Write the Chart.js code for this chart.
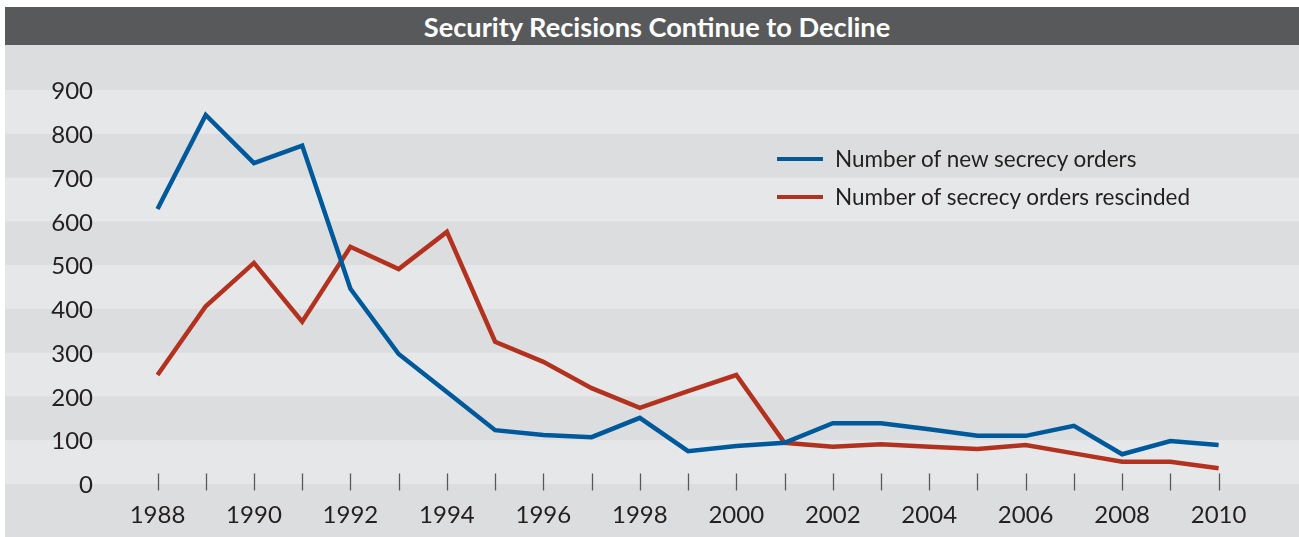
<!DOCTYPE html>
<html>
<head>
<meta charset="utf-8">
<script src="https://cdn.jsdelivr.net/npm/chart.js@4.4.0/dist/chart.umd.min.js"></script>
<style>
  html, body { margin:0; padding:0; background:#ffffff; width:1299px; height:537px; overflow:hidden; }
  #title { position:absolute; left:5px; top:7px; width:1294px; height:36px; padding-top:2px; background:#58595b;
           color:#ffffff; font:bold 27.2px Lato, sans-serif; line-height:36px; text-align:center; box-sizing:content-box; }
  #title span { position:relative; left:5px; }
  #wrap { position:absolute; left:5px; top:45px; width:1294px; height:492px; }
  #legend { position:absolute; left:777px; top:140px; }
  .row { position:absolute; left:0; display:flex; align-items:center; height:38px; white-space:nowrap; }
  .swatch { width:46px; height:4px; margin-right:12px; }
  .lbl { font:22.5px Lato, sans-serif; color:#231f20; line-height:38px; }
</style>
</head>
<body>
<div id="title"><span>Security Recisions Continue to Decline</span></div>
<div id="wrap"><canvas id="c"></canvas></div>
<div id="legend"></div>
<script>
const years = ['1988','1989','1990','1991','1992','1993','1994','1995','1996','1997','1998','1999',
               '2000','2001','2002','2003','2004','2005','2006','2007','2008','2009','2010'];
const newOrders = [628,843,733,773,446,297,210,123,112,107,151,75,87,94,139,139,125,110,110,133,68,98,89];
const rescinded = [249,406,505,371,542,491,576,325,279,219,174,212,249,94,85,91,85,80,89,70,51,51,36];
const yTicks = [0,100,200,300,400,500,600,700,800,900];
const seriesNames = ['Number of new secrecy orders','Number of secrecy orders rescinded'];
const seriesColors = ['#00599a','#b3321f'];

const bands = {
  id:'bands',
  beforeDraw(chart){
    const {ctx} = chart; const y = chart.scales.y;
    ctx.save();
    ctx.fillStyle = '#dcdddf';
    ctx.fillRect(0,0,chart.width,chart.height);
    ctx.fillStyle = '#e6e7e9';
    for (let v = 0; v < 1000; v += 100) {
      if ((v/100) % 2 === 0) {
        const top = y.getPixelForValue(v+100), bot = y.getPixelForValue(v);
        ctx.fillRect(0, top, chart.width, bot-top);
      }
    }
    ctx.restore();
  },
  beforeDatasetsDraw(chart){
    const {ctx} = chart; const x = chart.scales.x, y = chart.scales.y;
    const y0 = y.getPixelForValue(0);
    ctx.save();
    ctx.strokeStyle = '#58595b'; ctx.lineWidth = 1.3;
    years.forEach((_, i) => {
      const px = Math.round(x.getPixelForValue(i)) + 0.5;
      ctx.beginPath(); ctx.moveTo(px, y0 - 10.5); ctx.lineTo(px, y0 + 6.5); ctx.stroke();
    });
    ctx.restore();
  }
};

const chart = new Chart(document.getElementById('c'), {
  type:'line',
  data:{
    labels: years,
    datasets:[
      {label:seriesNames[0], data:newOrders, borderColor:seriesColors[0], backgroundColor:seriesColors[0],
       borderWidth:4.5, pointRadius:0, pointHoverRadius:0, tension:0, borderJoinStyle:'miter', fill:false},
      {label:seriesNames[1], data:rescinded, borderColor:seriesColors[1], backgroundColor:seriesColors[1],
       borderWidth:4.5, pointRadius:0, pointHoverRadius:0, tension:0, borderJoinStyle:'miter', fill:false}
    ]
  },
  options:{
    responsive:true, maintainAspectRatio:false, animation:false,
    layout:{padding:{top:1.25, right:80.4, left:0, bottom:0}},
    plugins:{legend:{display:false}, tooltip:{enabled:false}, title:{display:false}},
    scales:{
      x:{
        type:'category', offset:false,
        grid:{display:false, drawTicks:false}, border:{display:false},
        ticks:{font:{family:'Lato', size:24}, color:'#231f20', padding:17.1, maxRotation:0, autoSkip:false,
               callback:(v,i)=> (i % 2 === 0 ? years[i] : '')},
        afterFit:(s)=>{ s.height = 53; s.paddingLeft = 0; s.paddingRight = 0; }
      },
      y:{
        min:0, max:1000,
        afterBuildTicks:(s)=>{ s.ticks = yTicks.map(v=>({value:v})); },
        grid:{display:false, drawTicks:false}, border:{display:false},
        ticks:{font:{family:'Lato', size:24}, color:'#231f20', padding:64.5, labelOffset:1.5,
               callback:(v)=> String(v)},
        afterFit:(s)=>{ s.width = 152.5; s.paddingTop = 0; s.paddingBottom = 0; }
      }
    }
  },
  plugins:[bands]
});

const leg = document.getElementById('legend');
chart.data.datasets.forEach((ds, i) => {
  const row = document.createElement('div');
  row.className = 'row';
  row.style.top = (i * 38) + 'px';
  const sw = document.createElement('span'); sw.className = 'swatch'; sw.style.background = ds.borderColor;
  const tx = document.createElement('span'); tx.className = 'lbl'; tx.textContent = ds.label;
  row.appendChild(sw); row.appendChild(tx); leg.appendChild(row);
});
</script>
</body>
</html>
